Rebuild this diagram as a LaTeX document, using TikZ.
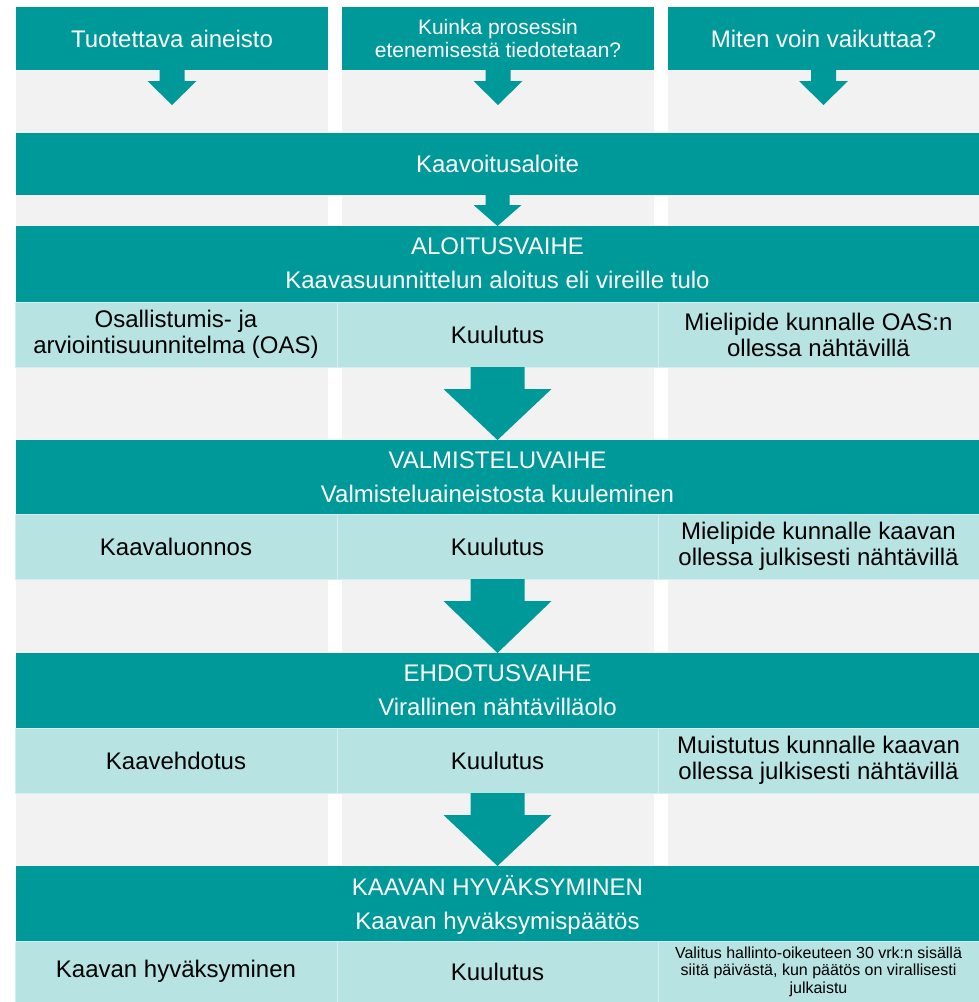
\documentclass[tikz,border=0pt]{standalone}
\usepackage{fontspec}
\setmainfont{Liberation Sans}
\usetikzlibrary{calc}
\definecolor{tealdark}{RGB}{0,153,153}
\definecolor{tealpale}{RGB}{183,227,227}
\definecolor{tealline}{RGB}{212,239,239}
\definecolor{greycol}{RGB}{242,242,242}
\newcommand\fbig{\fontsize{24}{26}\selectfont}
\newcommand\fmid{\fontsize{21}{23}\selectfont}
\newcommand\fsmall{\fontsize{16}{17.5}\selectfont}
% block arrow: from, tip, shaft half width, head half width, head offset
\newcommand\blockarr[5]{%
  \fill[tealdark] let \p1=(#1), \p2=(#2) in
    (\x1-#3,\y1) -- (\x1+#3,\y1) -- (\x1+#3,\y1-#5) -- (\x1+#4,\y1-#5)
    -- (\x1,\y2) -- (\x1-#4,\y1-#5) -- (\x1-#3,\y1-#5) -- cycle;}
\begin{document}
\begin{tikzpicture}[x=1pt,y=-1pt,
  box/.style={inner sep=0pt, outer sep=0pt, anchor=north west},
  colbg/.style={box, fill=greycol},
  hdr/.style={box, fill=tealdark, text=white, font=\fbig, align=center, minimum height=63},
  bar/.style={box, fill=tealdark, minimum width=963},
  btxt/.style={anchor=base, text=white, font=\fbig, inner sep=0pt},
  cell/.style={box, fill=tealpale, draw=tealline, line width=0.8pt, text=black, font=\fbig, align=center, minimum height=65},
  c1/.style={cell, minimum width=322},
  c2/.style={cell, minimum width=321},
  c3/.style={cell, minimum width=321},
]
\useasboundingbox (0,0) rectangle (979,1002);
\clip (0,0) rectangle (979,1002);
\fill[white] (0,0) rectangle (979,1002);

% grey columns
\node[colbg, minimum width=312, minimum height=995] (g1) at (16,7) {};
\node[colbg, minimum width=312, minimum height=995] (g2) at (342,7) {};
\node[colbg, minimum width=311, minimum height=995] (g3) at (668,7) {};

% headers
\node[hdr, minimum width=312] (h1) at (16,7) {Tuotettava aineisto};
\node[hdr, minimum width=312, font=\fmid] (h2) at (342,7) {Kuinka prosessin\\etenemisestä tiedotetaan?};
\node[hdr, minimum width=311] (h3) at (668,7) {Miten voin vaikuttaa?};

% Kaavoitusaloite
\node[bar, minimum height=62, text=white, font=\fbig] (init) at (16,133) {Kaavoitusaloite};

% ALOITUSVAIHE
\node[bar, minimum height=76] (alo) at (16,226) {};
\node[btxt] (alo1) at ($(alo.north)+(0,28.5)$) {ALOITUSVAIHE};
\node[btxt] (alo2) at ($(alo.north)+(0,62.5)$) {Kaavasuunnittelun aloitus eli vireille tulo};
\node[c1] (a1) at (15,302) {Osallistumis- ja\\arviointisuunnitelma (OAS)};
\node[c2] (a2) at (337,302) {Kuulutus};
\node[c3] (a3) at (658,302) {Mielipide kunnalle OAS:n\\ollessa nähtävillä};

% VALMISTELUVAIHE
\node[bar, minimum height=74] (val) at (16,440) {};
\node[btxt] (val1) at ($(val.north)+(0,28.5)$) {VALMISTELUVAIHE};
\node[btxt] (val2) at ($(val.north)+(0,62)$) {Valmisteluaineistosta kuuleminen};
\node[c1] (v1) at (15,514) {Kaavaluonnos};
\node[c2] (v2) at (337,514) {Kuulutus};
\node[c3] (v3) at (658,514) {Mielipide kunnalle kaavan\\ollessa julkisesti nähtävillä};

% EHDOTUSVAIHE
\node[bar, minimum height=75] (ehd) at (16,653) {};
\node[btxt] (ehd1) at ($(ehd.north)+(0,28.5)$) {EHDOTUSVAIHE};
\node[btxt] (ehd2) at ($(ehd.north)+(0,62.5)$) {Virallinen nähtävilläolo};
\node[c1] (e1) at (15,728) {Kaavehdotus};
\node[c2] (e2) at (337,728) {Kuulutus};
\node[c3] (e3) at (658,728) {Muistutus kunnalle kaavan\\ollessa julkisesti nähtävillä};

% KAAVAN HYVÄKSYMINEN
\node[bar, minimum height=75] (hyv) at (16,866) {};
\node[btxt] (hyv1) at ($(hyv.north)+(0,29)$) {KAAVAN HYVÄKSYMINEN};
\node[btxt] (hyv2) at ($(hyv.north)+(0,63)$) {Kaavan hyväksymispäätös};
\node[c1, minimum height=61] (k1) at (15,941) {Kaavan hyväksyminen};
\node[c2, minimum height=61] (k2) at (337,941) {Kuulutus};
\node[c3, minimum height=61, font=\fsmall] (k3) at (658,941) {Valitus hallinto-oikeuteen 30 vrk:n sisällä\\siitä päivästä, kun päätös on virallisesti\\julkaistu};

% arrows
\coordinate (t1) at ($(h1.south)+(0,35)$);
\coordinate (t2) at ($(h2.south)+(0,35)$);
\coordinate (t3) at ($(h3.south)+(0,35)$);
\blockarr{h1.south}{t1}{12.5pt}{24.5pt}{11pt}
\blockarr{h2.south}{t2}{12.5pt}{24.5pt}{11pt}
\blockarr{h3.south}{t3}{12.5pt}{24.5pt}{11pt}
\blockarr{init.south}{alo.north}{12pt}{24pt}{10pt}
\blockarr{a2.south}{val.north}{27pt}{54pt}{22pt}
\blockarr{v2.south}{ehd.north}{27pt}{54pt}{22pt}
\blockarr{e2.south}{hyv.north}{27pt}{54pt}{22pt}
\end{tikzpicture}
\end{document}
